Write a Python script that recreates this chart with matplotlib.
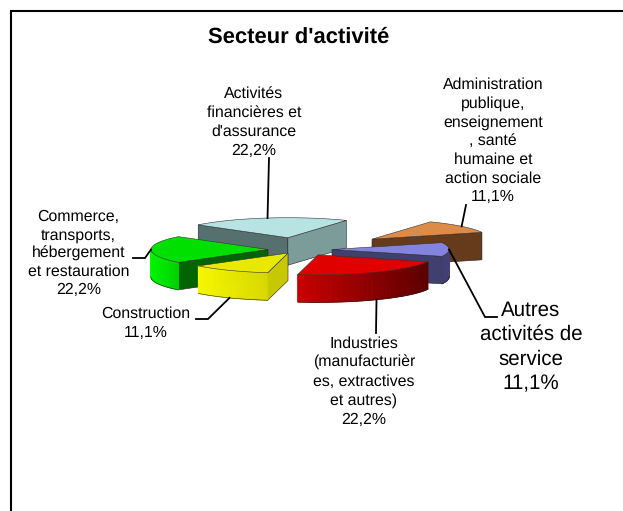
import numpy as np
import matplotlib
matplotlib.use('Agg')
import matplotlib.pyplot as plt
from matplotlib.colors import to_rgb
from matplotlib.patches import Polygon

plt.rcParams['font.family'] = ['Liberation Sans', 'DejaVu Sans']
plt.rcParams['text.hinting'] = 'none'

title = "Secteur d'activité"
sectors = ["Activités\nfinancières et\nd'assurance",
           "Administration\npublique,\nenseignement\n, santé\nhumaine et\naction sociale",
           "Autres\nactivités de\nservice",
           "Industries\n(manufacturièr\nes, extractives\net autres)",
           "Construction",
           "Commerce,\ntransports,\nhébergement\net restauration"]
shares = [22.2, 11.1, 11.1, 22.2, 11.1, 22.2]
share_labels = ["22,2%", "11,1%", "11,1%", "22,2%", "11,1%", "22,2%"]

# pie shape in pixels
cx, cy = 300, 249.5
rx, ry = 117, 20
depth = 27.5
start_angle = -50
explode = [70, 94, 32, 36, 24, 32]

# top colour, arc wall left/right, flat wall colours (start edge, end edge)
tops = ['#b7e4e2', '#dd8b46', '#8484e0', '#e00000', '#e8e800', '#00e000']
arc_left = ['#55706f', '#653b1b', '#40406f', '#c80000', '#f6f600', '#00f400']
arc_right = ['#55706f', '#653b1b', '#40407a', '#5c0000', '#d8d800', '#00d000']
wall_start = ['#55706f', '#653b1b', '#40406f', '#600000', '#c8c800', '#006400']
wall_end = ['#7b9c99', '#653b1b', '#40406f', '#c80000', '#f6f600', '#006400']

# text centre, line spacing, size and leader elbows for each slice
label_pos = [(254, 122.5), (493, 141), (531, 347), (364, 381.5), (145.5, 323.5), (78.5, 253.5)]
label_space = [1.34, 1.33, 1.31, 1.34, 1.32, 1.29]
label_size = [11.4, 11.4, 14.8, 11.4, 11.4, 11.4]
leaders = [[(269, 158)], [(466, 205)], [(485, 317), (497, 317)],
           [(376, 333)], [(208, 319), (196, 319)], [(145, 258), (133, 258)]]
# slices are drawn back to front
draw_order = [0, 1, 5, 2, 3, 4]


def rim(theta):
    t = np.radians(theta)
    return np.array([rx * np.sin(t), -ry * np.cos(t)]).T


def wall_visible(edge, mid):
    # the wall shows when the slice lies on the other side of the edge from "down"
    across = edge[0] * mid[1] - edge[1] * mid[0]
    return across * edge[0] < 0


fig = plt.figure(figsize=(6.23, 5.11), dpi=100)
ax = fig.add_axes([0, 0, 1, 1])
ax.set_xlim(0, 623)
ax.set_ylim(511, 0)
ax.axis('off')

ax.plot([10.5, 10.5, 623], [511, 11.5, 11.5], color='black', lw=1.5,
        solid_joinstyle='miter', zorder=1)

sweeps = 360 * np.array(shares) / sum(shares)
ends = start_angle + np.cumsum(sweeps)
starts = ends - sweeps
mids = (starts + ends) / 2

apex = []
for i in range(len(shares)):
    off = explode[i] * rim(mids[i]) / np.array([rx, rx])
    apex.append(np.array([cx, cy]) + off)

z = 2
for i in draw_order:
    a = apex[i]
    drop = np.array([0, depth])
    thetas = np.linspace(starts[i], ends[i], 60)
    edge = rim(thetas)
    mid = rim(mids[i])

    # flat cut walls
    for theta, col in ((starts[i], wall_start[i]), (ends[i], wall_end[i])):
        p = rim(theta)
        if wall_visible(p, mid):
            ax.add_patch(Polygon([a, a + p, a + p + drop, a + drop], fc=col,
                                 ec='#222222', lw=0.4, zorder=z))

    # curved wall, only the front half shows
    c0 = np.array(to_rgb(arc_left[i]))
    c1 = np.array(to_rgb(arc_right[i]))
    xmin, xmax = edge[:, 0].min(), edge[:, 0].max()
    for j in range(len(thetas) - 1):
        if not 90 <= (thetas[j] + thetas[j + 1]) / 2 % 360 <= 270:
            continue
        frac = ((edge[j, 0] + edge[j + 1, 0]) / 2 - xmin) / max(xmax - xmin, 1)
        col = c0 + (c1 - c0) * frac
        ax.add_patch(Polygon([a + edge[j], a + edge[j + 1], a + edge[j + 1] + drop, a + edge[j] + drop],
                             fc=col, ec=col, lw=0.7, joinstyle='bevel', zorder=z))
    front = (thetas % 360 >= 90) & (thetas % 360 <= 270)
    if front.any():
        ax.plot(*(a + edge[front] + drop).T, color='#222222', lw=0.4, zorder=z)

    # top face
    ax.add_patch(Polygon(np.vstack([a, a + edge]), fc=tops[i], ec='#333333', lw=0.4, zorder=z + 0.5))
    z += 1

# labels and leader lines
for i in range(len(shares)):
    ax.text(label_pos[i][0], label_pos[i][1], sectors[i] + "\n" + share_labels[i],
            ha='center', va='center', fontsize=label_size[i], linespacing=label_space[i],
            color='black', zorder=30)
    p = apex[i] + rim(mids[i])
    if 90 < mids[i] % 360 < 270:
        p = p + np.array([0, depth])
    pts = np.vstack([p] + leaders[i])
    ax.plot(pts[:, 0], pts[:, 1], color='black', lw=1.3, solid_joinstyle='miter', zorder=25)

ax.text(299, 37, title, ha='center', va='center', fontsize=15.8, fontweight='bold', color='black')

fig.savefig('out.png', dpi=100)
